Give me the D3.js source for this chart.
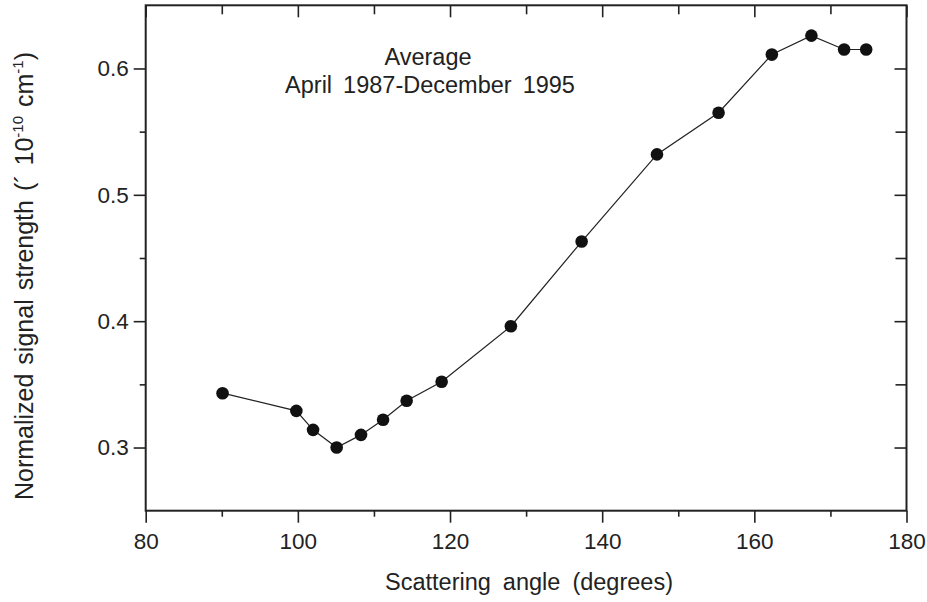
<!DOCTYPE html>
<html>
<head>
<meta charset="utf-8">
<script src="https://cdn.jsdelivr.net/npm/d3@7"></script>
<style>
  html, body { margin: 0; padding: 0; background: #fff; }
  svg { display: block; }
  text { font-family: "Liberation Sans", Arial, Helvetica, sans-serif; fill: #222; }
</style>
</head>
<body>
<svg id="chart" width="927" height="602"></svg>
<script>
// ---- data ----
const angles   = [90.1, 99.8, 102.0, 105.1, 108.3, 111.2, 114.3, 118.9, 128.0, 137.3, 147.2, 155.3, 162.3, 167.5, 171.8, 174.7];
const strength = [0.343, 0.329, 0.314, 0.300, 0.310, 0.322, 0.337, 0.352, 0.396, 0.463, 0.532, 0.565, 0.611, 0.626, 0.615, 0.615];
const xMajorTicks = [80, 100, 120, 140, 160, 180];
const xMinorTicks = [90, 110, 130, 150, 170];
const yMajorTicks = [0.3, 0.4, 0.5, 0.6];
const yMinorTicks = [0.35, 0.45, 0.55];
const xDomain = [80, 180];
const yDomain = [0.25, 0.65];
const annotationLines = ["Average", "April 1987-December 1995"];
const xTitle = "Scattering angle (degrees)";

// ---- layout ----
const svg = d3.select("#chart");
const L = 145.7, R = 906.5, T = 5.3, B = 510.7;
const x = d3.scaleLinear().domain(xDomain).range([L, R]);
const y = d3.scaleLinear().domain(yDomain).range([B, T]);
const ink = "#222";
const font = "'Liberation Sans', Arial, sans-serif";

function styleAxis(g) {
  g.select(".domain").remove();
  g.selectAll("line").attr("stroke", ink).attr("stroke-width", 1.6);
}

// bottom axis (outward ticks)
svg.append("g").attr("transform", `translate(0,${B})`)
  .call(d3.axisBottom(x).tickValues(xMajorTicks).tickSize(12).tickPadding(10).tickFormat(d3.format("d")))
  .call(styleAxis)
  .call(g => g.selectAll("text").attr("font-size", 22.5).style("fill", ink).attr("font-family", font));
svg.append("g").attr("transform", `translate(0,${B})`)
  .call(d3.axisBottom(x).tickValues(xMinorTicks).tickSize(6).tickFormat(""))
  .call(styleAxis);

// top axis (inward ticks)
svg.append("g").attr("transform", `translate(0,${T})`)
  .call(d3.axisBottom(x).tickValues(xMajorTicks).tickSize(12).tickFormat(""))
  .call(styleAxis);
svg.append("g").attr("transform", `translate(0,${T})`)
  .call(d3.axisBottom(x).tickValues(xMinorTicks).tickSize(9).tickFormat(""))
  .call(styleAxis);

// left axis (outward ticks)
svg.append("g").attr("transform", `translate(${L},0)`)
  .call(d3.axisLeft(y).tickValues(yMajorTicks).tickSize(12).tickPadding(5).tickFormat(d3.format(".1f")))
  .call(styleAxis)
  .call(g => g.selectAll("text").attr("font-size", 22.5).style("fill", ink).attr("font-family", font));
svg.append("g").attr("transform", `translate(${L},0)`)
  .call(d3.axisLeft(y).tickValues(yMinorTicks).tickSize(6).tickFormat(""))
  .call(styleAxis);

// right axis (inward ticks)
svg.append("g").attr("transform", `translate(${R},0)`)
  .call(d3.axisLeft(y).tickValues(yMajorTicks).tickSize(12).tickFormat(""))
  .call(styleAxis);
svg.append("g").attr("transform", `translate(${R},0)`)
  .call(d3.axisLeft(y).tickValues(yMinorTicks).tickSize(11).tickFormat(""))
  .call(styleAxis);

// frame
svg.append("rect").attr("x", L).attr("y", T).attr("width", R - L).attr("height", B - T)
  .attr("fill", "none").attr("stroke", ink).attr("stroke-width", 2);

// data line + dots
const pts = angles.map((a, i) => [a, strength[i]]);
svg.append("path").datum(pts)
  .attr("fill", "none").attr("stroke", ink).attr("stroke-width", 1.2)
  .attr("d", d3.line().x(d => x(d[0])).y(d => y(d[1])));
svg.append("g").selectAll("circle").data(pts).join("circle")
  .attr("cx", d => x(d[0])).attr("cy", d => y(d[1])).attr("r", 6.3)
  .attr("fill", "#111");

// annotation
svg.append("text").attr("x", 428).attr("y", 65).attr("text-anchor", "middle")
  .attr("font-size", 23.5).style("word-spacing", "4.5px").text(annotationLines[0]);
svg.append("text").attr("x", 430).attr("y", 93).attr("text-anchor", "middle")
  .attr("font-size", 23.5).style("word-spacing", "4.5px").text(annotationLines[1]);

// x title
svg.append("text").attr("x", 529).attr("y", 590).attr("text-anchor", "middle")
  .attr("font-size", 23.5).style("word-spacing", "5.5px").text(xTitle);

// y title with superscripts
const yt = svg.append("text").attr("transform", "translate(33,500) rotate(-90)")
  .attr("text-anchor", "start").attr("font-size", 25).style("word-spacing", "2px");
yt.append("tspan").text("Normalized signal strength (´ 10");
yt.append("tspan").attr("font-size", 15).attr("dy", -10).text("-10");
yt.append("tspan").attr("dy", 10).text(" cm");
yt.append("tspan").attr("font-size", 15).attr("dy", -10).text("-1");
yt.append("tspan").attr("dy", 10).text(")");
</script>
</body>
</html>
